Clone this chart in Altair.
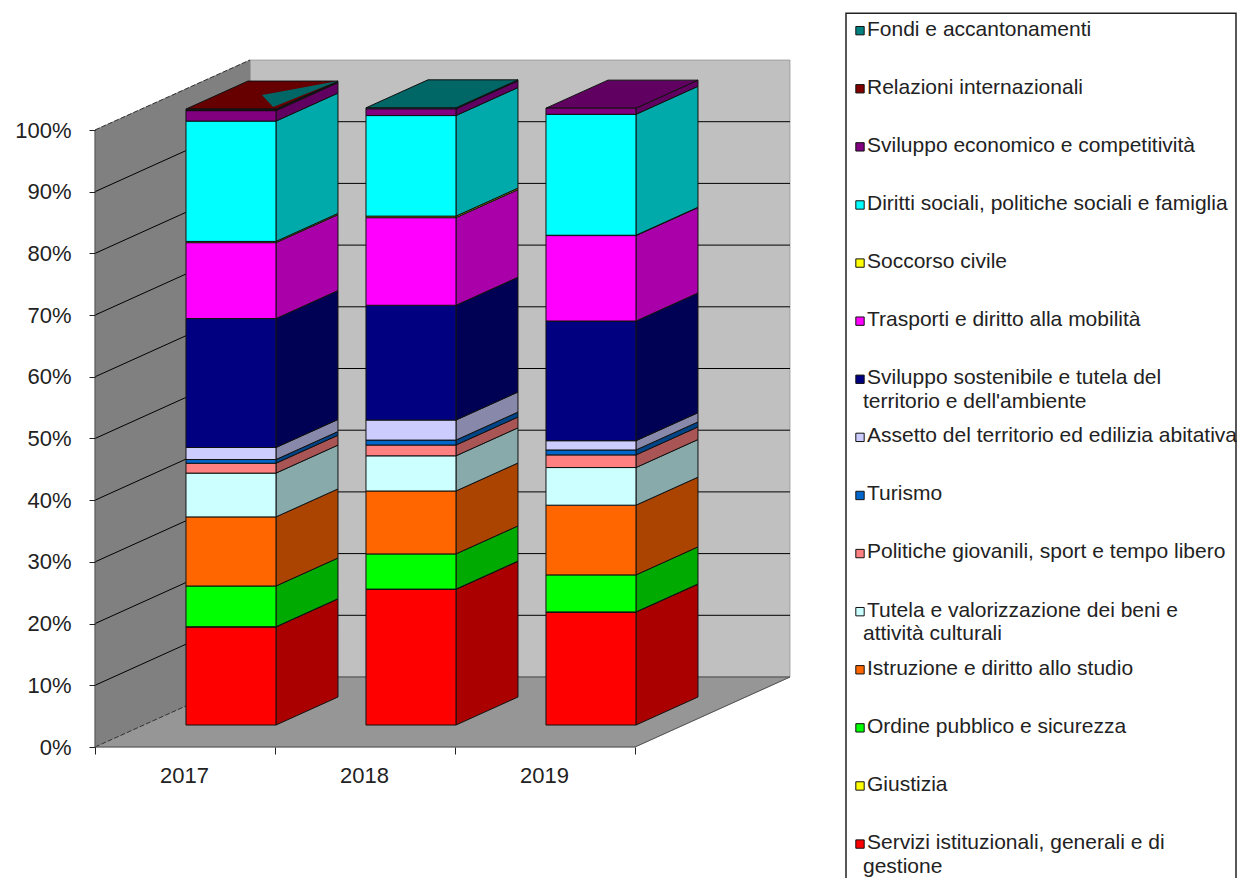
import altair as alt
import pandas as pd

years = ["2017", "2018", "2019"]
series = [
    "Servizi istituzionali, generali e di\ngestione",
    "Giustizia",
    "Ordine pubblico e sicurezza",
    "Istruzione e diritto allo studio",
    "Tutela e valorizzazione dei beni e\nattività culturali",
    "Politiche giovanili, sport e tempo libero",
    "Turismo",
    "Assetto del territorio ed edilizia abitativa",
    "Sviluppo sostenibile e tutela del\nterritorio e dell'ambiente",
    "Trasporti e diritto alla mobilità",
    "Soccorso civile",
    "Diritti sociali, politiche sociali e famiglia",
    "Sviluppo economico e competitività",
    "Relazioni internazionali",
    "Fondi e accantonamenti",
]
v2017 = [15.9, 0.03, 6.6, 11.2, 7.1, 1.6, 0.6, 1.95, 20.9, 12.3, 0.2, 19.5, 1.7, 0.15, 0.1]
v2018 = [22.0, 0.03, 5.7, 10.2, 5.7, 1.75, 0.8, 3.25, 18.6, 14.2, 0.25, 16.3, 1.1, 0.0, 0.15]
v2019 = [18.3, 0.03, 6.0, 11.3, 6.1, 2.05, 0.8, 1.5, 19.4, 13.85, 0.05, 19.6, 1.0, 0.0, 0.0]
values = [v2017, v2018, v2019]
front_colors = ["#FF0000", "#FFFF00", "#00FF00", "#FF6600", "#CCFFFF", "#FF8080", "#0066CC", "#CCCCFF",
                "#000080", "#FF00FF", "#FFFF00", "#00FFFF", "#800080", "#800000", "#008080"]
side_colors = ["#AA0000", "#AAAA00", "#00AA00", "#AA4400", "#88AAAA", "#AA5555", "#004488", "#8888AA",
               "#000055", "#AA00AA", "#AAAA00", "#00AAAA", "#600060", "#550000", "#005555"]
top_colors = ["#660000", "#006666", "#600060"]
ticks = list(range(0, 101, 10))

W, H = 1229, 870
PX_U, PX_P = 180.0, 6.17
DX_Z, DY_Z = 155.0 / PX_U, 70.0 / PX_P
Z0, Z1 = 0.314, 0.714
BAR_L, BAR_W = 0.235, 0.5


def proj(u, z, p):
    return u + z * DX_Z, p + z * DY_Z


def vertical_quad(fid, fill, u, z0, z1, p0, p1):
    x0, y0 = proj(u, z0, p0)
    _, y1 = proj(u, z0, p1)
    x2, y2 = proj(u, z1, p0)
    _, y3 = proj(u, z1, p1)
    return [dict(id=fid, fill=fill, x=x0, y=y0, y2=y1), dict(id=fid, fill=fill, x=x2, y=y2, y2=y3)]


def front_quad(fid, fill, u0, u1, z, p0, p1):
    return [dict(id=fid, fill=fill, x=proj(u, z, 0)[0], y=proj(u, z, p0)[1], y2=proj(u, z, p1)[1]) for u in (u0, u1)]


def flat_quad(fid, fill, u0, u1, z0, z1, p):
    xa = proj(u0, z0, p)[0]
    xb = proj(u1, z0, p)[0]
    xc = proj(u0, z1, p)[0]
    xd = proj(u1, z1, p)[0]
    ylow = proj(0, z0, p)[1]
    yhigh = proj(0, z1, p)[1]

    def back_edge(x):  # upper boundary of the parallelogram
        return ylow + (x - xa) / (xc - xa) * (yhigh - ylow) if x < xc else yhigh

    def front_edge(x):  # lower boundary
        return ylow if x <= xb else ylow + (x - xb) / (xd - xb) * (yhigh - ylow)

    return [dict(id=fid, fill=fill, x=x, y=front_edge(x), y2=back_edge(x)) for x in sorted([xa, xb, xc, xd])]


front_rows, side_rows, top_rows = [], [], []
for i, yr in enumerate(years):
    cum = 0.0
    ul = i + BAR_L
    ur = ul + BAR_W
    for j, v in enumerate(values[i]):
        if v <= 0:
            continue
        fid = f"{yr}-{j}"
        front_rows += front_quad(fid, front_colors[j], ul, ur, Z0, cum, cum + v)
        side_rows += vertical_quad(fid, side_colors[j], ur, Z0, Z1, cum, cum + v)
        cum += v
    top_rows += flat_quad(f"t{yr}", top_colors[i], ul, ur, Z0, Z1, cum)

# teal patch showing through the 2017 top face
tot17 = sum(v2017)


def on_top(a, b):
    return proj(BAR_L + a * BAR_W, Z0 + b * (Z1 - Z0), tot17)


tri = sorted([on_top(0.5, 0.5), on_top(0.92, 0.07), on_top(1.0, 1.0)])
(tx0, ty0), (tx1, ty1), (tx2, ty2) = tri
tmid = ty0 + (ty2 - ty0) * (tx1 - tx0) / (tx2 - tx0)
patch_rows = [dict(id="p", fill="#006666", x=tx0, y=ty0, y2=ty0),
              dict(id="p", fill="#006666", x=tx1, y=ty1, y2=tmid),
              dict(id="p", fill="#006666", x=tx2, y=ty2, y2=ty2)]

wall_rows = []
wall_rows += front_quad("back", "#C0C0C0", 0, 3, 1, 0, 100)
wall_rows += vertical_quad("left", "#808080", 0, 0, 1, 0, 100)
wall_rows += flat_quad("floor", "#969696", 0, 3, 0, 1, 0)

grid_rows = []
for t in ticks[1:-1]:
    for k, (u, z) in enumerate([(0, 0), (0, 1), (3, 1)]):
        x, y = proj(u, z, t)
        grid_rows.append(dict(id=t, x=x, y=y, k=k))
edge_rows = []
for t in (0, 100):
    for k, z in enumerate((0, 1)):
        x, y = proj(0, z, t)
        edge_rows.append(dict(id=t, x=x, y=y, k=k))
frame_rows = []
for name, pts in {"a": [(0, 0, 0), (0, 0, 100)], "b": [(0, 0, 0), (3, 0, 0)], "c": [(0, 1, 0), (3, 1, 0)], "d": [(3, 0, 0), (3, 1, 0)]}.items():
    for k, (u, z, p) in enumerate(pts):
        x, y = proj(u, z, p)
        frame_rows.append(dict(id=name, x=x, y=y, k=k))

x_scale = alt.Scale(domain=[-87 / PX_U, (W - 87) / PX_U], range=[0, W], nice=False, zero=False)
y_scale = alt.Scale(domain=[-(H - 739) / PX_P, 739 / PX_P], range=[H, 0], nice=False, zero=False)

year_expr = "[" + ",".join(f"'{y}'" for y in years) + ",''][datum.value]"
axis_font = dict(labelFont="Liberation Sans", labelFontSize=22, labelColor="#222", tickColor="#222",
                 domain=False, grid=False, zindex=1, title=None)
x_axis = alt.Axis(orient="bottom", offset=-(H - 739), values=[0, 1, 2, 3], labelExpr=year_expr,
                  labelOffset=89, tickSize=7, labelPadding=11, labelOverlap=False, labelFlush=False, **axis_font)
y_axis = alt.Axis(orient="left", offset=-87, values=ticks, labelExpr="datum.value + '%'",
                  tickSize=6, labelPadding=18, labelOverlap=False, labelFlush=False, **axis_font)
X = alt.X("x:Q", scale=x_scale, axis=x_axis)
Y = alt.Y("y:Q", scale=y_scale, axis=y_axis)


def faces(rows, **mark):
    return alt.Chart(pd.DataFrame(rows)).mark_area(**mark).encode(
        x=X, y=Y, y2=alt.Y2("y2"), fill=alt.Fill("fill:N", scale=None), detail="id:N")


def lines(rows, **mark):
    return alt.Chart(pd.DataFrame(rows)).mark_line(**mark).encode(x=X, y=Y, detail="id:N", order="k:Q")


# legend panel, placed on the same scales
ROW0, ROW_PX = 21.5, 58.1


def lx(px):
    return (px - 87) / PX_U


def ly(row):
    return (739 - (ROW0 + ROW_PX * row)) / PX_P


rows_text, rows_swatch = [], []
n = len(series)
for j in range(n - 1, -1, -1):
    row = n - 1 - j
    rows_swatch.append(dict(x=lx(852), y=ly(row + 0.02), fill=front_colors[j]))
    for k, line in enumerate(series[j].split("\n")):
        rows_text.append(dict(x=lx(859 if k == 0 else 855), y=ly(row + k * 0.413), t=line))

box = alt.Chart(pd.DataFrame([dict(x=lx(838), x2=lx(1228), y=ly(-0.28), y2=ly(16))])).mark_rect(
    fill="white", stroke="#222222", strokeWidth=1.5).encode(x=X, x2=alt.X2("x2"), y=Y, y2=alt.Y2("y2"))
swatches = alt.Chart(pd.DataFrame(rows_swatch)).mark_square(size=70, opacity=1, stroke="#111111", strokeWidth=1).encode(
    x=X, y=Y, fill=alt.Fill("fill:N", scale=None))
texts = alt.Chart(pd.DataFrame(rows_text)).mark_text(
    align="left", baseline="middle", font="Liberation Sans", fontSize=21, color="#222222").encode(
    x=X, y=Y, text="t:N")

chart = alt.layer(
    faces(wall_rows, stroke="#808080", strokeWidth=0.6),
    lines(grid_rows, color="#000000", strokeWidth=1),
    lines(edge_rows, color="#333333", strokeWidth=1, strokeDash=[5, 2]),
    lines(frame_rows, color="#555555", strokeWidth=1),
    faces(side_rows, stroke="#111111", strokeWidth=1),
    faces(top_rows, stroke="#111111", strokeWidth=1),
    faces(patch_rows),
    faces(front_rows, stroke="#111111", strokeWidth=1),
    box, swatches, texts,
).properties(
    width=W, height=H, padding=0, autosize=alt.AutoSizeParams(type="none"),
    background="white").configure_view(stroke=None)

chart.save("out.html", embed_options={"renderer": "svg", "actions": False})
